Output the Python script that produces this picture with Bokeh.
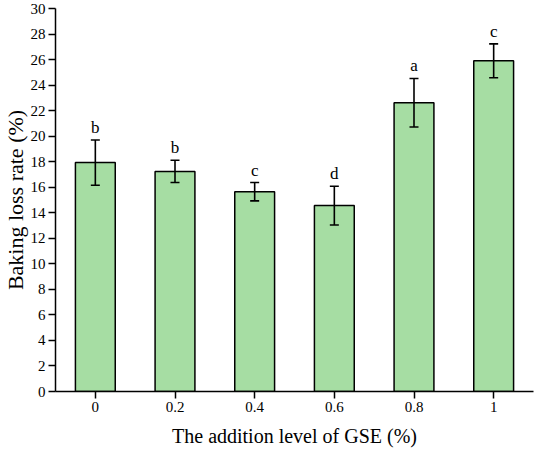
from bokeh.plotting import figure
from bokeh.models import ColumnDataSource, FactorRange, Range1d, Whisker, TeeHead, FixedTicker, Title
from bokeh.embed import file_html
from bokeh.resources import INLINE
from bokeh.core.properties import value

categories = ["0", "0.2", "0.4", "0.6", "0.8", "1"]
means = [17.93, 17.24, 15.65, 14.56, 22.62, 25.9]
errors = [1.77, 0.87, 0.72, 1.52, 1.9, 1.33]
letters = ["b", "b", "c", "d", "a", "c"]
y_ticks = list(range(0, 31, 2))

FONT = "Liberation Serif"

src = ColumnDataSource(dict(
    x=categories,
    top=means,
    upper=[m + e for m, e in zip(means, errors)],
    lower=[m - e for m, e in zip(means, errors)],
    letter=letters,
))

p = figure(
    width=534, height=452,
    x_range=FactorRange(factors=categories, range_padding=0),
    y_range=Range1d(0, 30),
    output_backend="svg", toolbar_location=None,
    min_border_left=55, min_border_right=1, min_border_top=8, min_border_bottom=61,
)
p.outline_line_color = None
p.xgrid.grid_line_color = None
p.ygrid.grid_line_color = None
p.background_fill_color = "white"
p.border_fill_color = "white"

p.vbar(x="x", top="top", width=0.5, bottom=0, source=src,
       fill_color="#A6DDA3", line_color="black", line_width=1.5)

w = Whisker(base="x", upper="upper", lower="lower", source=src,
            line_color="black", line_width=1.6, level="overlay",
            upper_head=TeeHead(size=9, line_color="black", line_width=1.6),
            lower_head=TeeHead(size=9, line_color="black", line_width=1.6))
p.add_layout(w)

p.text(x="x", y="upper", text="letter", source=src, text_align="center",
       text_baseline="bottom", y_offset=-3, text_font=value(FONT),
       text_font_size="17px", text_color="black")

for ax in (p.xaxis[0], p.yaxis[0]):
    ax.axis_line_width = 1.5
    ax.axis_line_color = "black"
    ax.major_tick_line_width = 1.5
    ax.major_tick_line_color = "black"
    ax.major_tick_in = 0
    ax.minor_tick_line_color = None
    ax.major_label_text_font = FONT
    ax.major_label_text_font_size = "15px"
    ax.major_label_text_color = "black"
    ax.axis_label_text_font = FONT
    ax.axis_label_text_font_style = "normal"
    ax.axis_label_text_color = "black"

p.xaxis.axis_label_text_font_size = "20px"
p.xaxis.major_tick_out = 7
p.yaxis.major_tick_out = 7
p.yaxis.ticker = FixedTicker(ticks=y_ticks)
p.xaxis.axis_label = "The addition level of GSE (%)"
p.xaxis.major_label_standoff = 3
p.yaxis.major_label_standoff = 3
p.xaxis.axis_label_standoff = 10

ytitle = Title(text="Baking loss rate (%)", align="center",
               text_font=FONT, text_font_size="22px", text_font_style="normal",
               text_color="black", standoff=0, offset=0)
p.add_layout(ytitle, "left")

open("out.html", "w").write(file_html(p, INLINE))
